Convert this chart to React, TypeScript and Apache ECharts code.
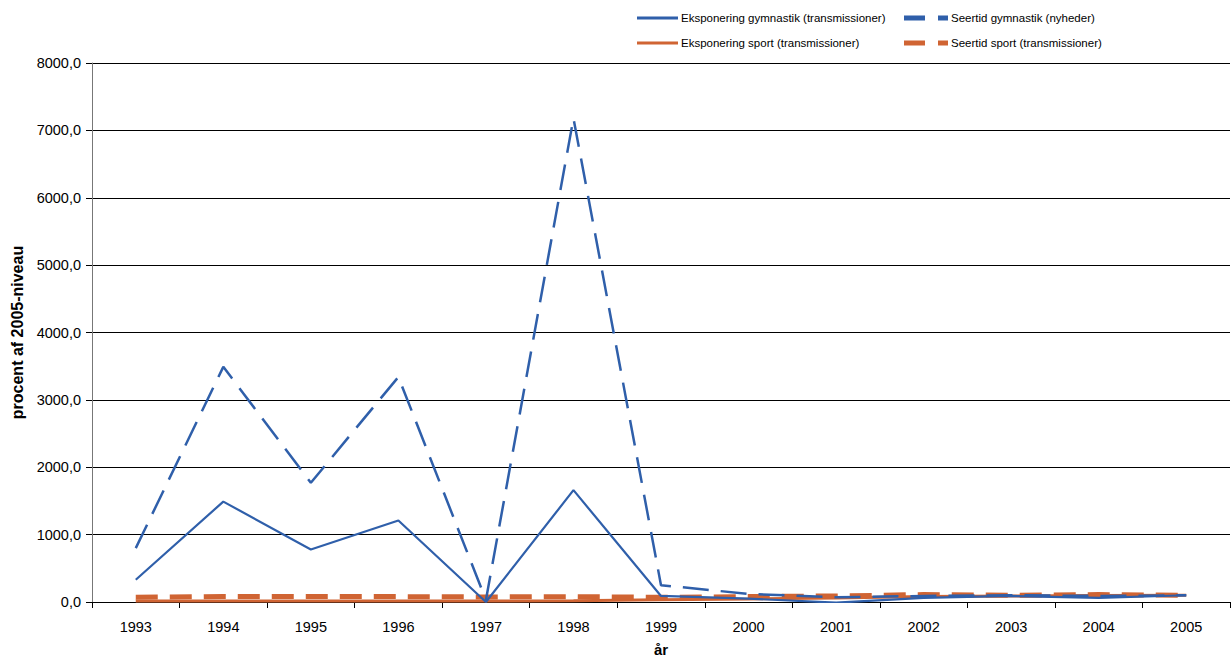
import React, { useEffect, useRef } from "react";
import * as echarts from "echarts";

const years = ["1993", "1994", "1995", "1996", "1997", "1998", "1999", "2000", "2001", "2002", "2003", "2004", "2005"];
const ekspGym = [330, 1490, 780, 1210, 0, 1660, 90, 50, -10, 60, 90, 60, 100];
const seertidGym = [800, 3490, 1770, 3340, 30, 7180, 250, 120, 70, 90, 100, 90, 100];
const ekspSport = [15, 15, 15, 15, 15, 20, 35, 45, 60, 80, 90, 95, 100];
const seertidSport = [70, 80, 80, 80, 75, 80, 70, 80, 90, 110, 100, 110, 100];

const BLUE = "#2F5FAA";
const ORANGE = "#D06433";
const FONT = "Liberation Sans, Arial, sans-serif";

const N_EG = "Eksponering gymnastik (transmissioner)";
const N_ES = "Eksponering sport (transmissioner)";
const N_SG = "Seertid gymnastik (nyheder)";
const N_SS = "Seertid sport (transmissioner)";

const DASH_ICON = "path://M0,0h21v5h-21z M34,0h10v5h-10z";

export default function App() {
  const ref = useRef<HTMLDivElement>(null);
  useEffect(() => {
    const chart = echarts.init(ref.current!, null, { renderer: "svg" });
    const legendText = { fontFamily: FONT, fontSize: 11.5, color: "#000" };
    const mkLegend = (name: string, left: number, top: number, icon: string, w: number, h: number) => ({
      orient: "horizontal",
      left,
      top,
      icon,
      itemWidth: w,
      itemHeight: h,
      itemGap: 4,
      symbolKeepAspect: false,
      textStyle: { ...legendText, padding: [0, 0, 0, -2] },
      data: [name],
    });
    chart.setOption({
      animation: false,
      backgroundColor: "#fff",
      textStyle: { fontFamily: FONT },
      legend: [
        mkLegend(N_EG, 632, 7, "rect", 41, 3),
        mkLegend(N_ES, 632, 32, "rect", 41, 3),
        mkLegend(N_SG, 899, 7, DASH_ICON, 44, 5),
        mkLegend(N_SS, 899, 32, DASH_ICON, 44, 5),
      ],
      grid: { left: 92, right: 1, top: 63, bottom: 61, containLabel: false, outerBoundsMode: "none" },
      xAxis: {
        type: "category",
        data: years,
        boundaryGap: true,
        name: "år",
        nameLocation: "middle",
        nameGap: 40,
        nameTextStyle: { fontFamily: FONT, fontSize: 15, fontWeight: "bold", color: "#000" },
        axisLine: { lineStyle: { color: "#000", width: 1 } },
        axisTick: { show: true, length: 6, lineStyle: { color: "#000" } },
        axisLabel: { fontFamily: FONT, fontSize: 14.5, color: "#000", margin: 17 },
      },
      yAxis: {
        type: "value",
        min: 0,
        max: 8000,
        interval: 1000,
        name: "procent af 2005-niveau",
        nameLocation: "middle",
        nameGap: 65,
        nameTextStyle: { fontFamily: FONT, fontSize: 16, fontWeight: "bold", color: "#000" },
        axisLine: { show: true, lineStyle: { color: "#777", width: 1 } },
        axisTick: { show: true, length: 6, lineStyle: { color: "#000" } },
        axisLabel: {
          fontFamily: FONT,
          fontSize: 14.5,
          color: "#000",
          margin: 11,
          formatter: (v: number) => v.toFixed(1).replace(".", ","),
        },
        splitLine: { lineStyle: { color: "#000", width: 1 } },
      },
      series: [
        {
          name: N_ES,
          type: "line",
          data: ekspSport,
          symbol: "none",
          color: ORANGE,
          lineStyle: { color: ORANGE, width: 3 },
        },
        {
          name: N_SS,
          type: "line",
          data: seertidSport,
          symbol: "none",
          color: ORANGE,
          lineStyle: { color: ORANGE, width: 5, type: [22, 12] },
        },
        {
          name: N_EG,
          type: "line",
          data: ekspGym,
          symbol: "none",
          color: BLUE,
          lineStyle: { color: BLUE, width: 2.2 },
        },
        {
          name: N_SG,
          type: "line",
          data: seertidGym,
          symbol: "none",
          color: BLUE,
          lineStyle: { color: BLUE, width: 2.5, type: [26, 12] },
        },
      ],
    });
    return () => chart.dispose();
  }, []);
  return <div ref={ref} style={{ width: 1231, height: 663, position: "absolute", left: 0, top: 0 }} />;
}
